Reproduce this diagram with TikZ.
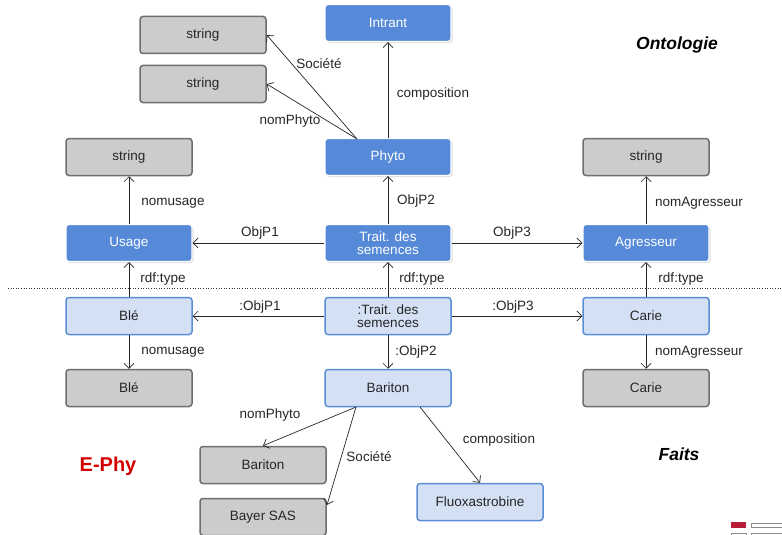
\documentclass[tikz,border=0pt]{standalone}
\usepackage{fontspec}
\setmainfont{Liberation Sans}
\usetikzlibrary{arrows.meta,shadows}
\definecolor{classblue}{HTML}{568AD8}
\definecolor{instfill}{HTML}{D4E1F5}
\definecolor{instedge}{HTML}{5B8DD6}
\definecolor{litfill}{HTML}{CCCCCC}
\definecolor{litedge}{HTML}{6E6E6E}
\definecolor{logored}{HTML}{B81E3A}
\definecolor{ephyred}{HTML}{D40000}
\begin{document}
\begin{tikzpicture}[x=1pt,y=-1pt,
  every node/.style={font=\fontsize{13.5}{15}\selectfont},
  box/.style={rounded corners=3pt,minimum width=126pt,minimum height=37pt,
    align=center,inner sep=1pt},
  cls/.style={box,fill=classblue,draw=white,line width=1.2pt,text=white,
    drop shadow={shadow xshift=1.5pt,shadow yshift=-1.5pt,opacity=0.25}},
  inst/.style={box,fill=instfill,draw=instedge,line width=1.5pt,text=black!85},
  lit/.style={box,fill=litfill,draw=litedge,line width=1.5pt,text=black!85},
  rel/.style={draw=black!85,line width=0.7pt,-{Straight Barb[length=5pt,width=10pt]}},
  lbl/.style={text=black!85,inner sep=1pt,font=\fontsize{13.5}{15}\selectfont},
  title/.style={font=\fontsize{17.5}{20}\selectfont\bfseries\itshape}]
\useasboundingbox (0,0) rectangle (782,535);

% ontology level
\node[cls] (intrant) at (388,23) {Intrant};
\node[lit] (s1) at (203,35) {string};
\node[lit] (s2) at (203,84) {string};
\node[cls] (phyto) at (388,157) {Phyto};
\node[lit] (s3) at (129,157) {string};
\node[lit] (s4) at (646,157) {string};
\node[cls] (usage) at (129,243) {Usage};
\node[cls] (trait) at (388,243) {Trait. des\\[-1.5pt]semences};
\node[cls] (agr) at (646,243) {Agresseur};

% facts level
\node[inst] (ble) at (129,316) {Blé};
\node[inst] (itrait) at (388,316) {:Trait. des\\[-1.5pt]semences};
\node[inst] (carie) at (646,316) {Carie};
\node[lit] (ble2) at (129,388) {Blé};
\node[inst] (bariton) at (388,388) {Bariton};
\node[lit] (carie2) at (646,388) {Carie};
\node[lit] (bariton2) at (263,465) {Bariton};
\node[lit] (bayer) at (263,517) {Bayer SAS};
\node[inst] (fluo) at (480,502) {Fluoxastrobine};

% separator
\draw[black!80,line width=0.6pt,dotted] (8,288) -- (782,288);

% ontology relations
\coordinate (pt) at (357,139);
\draw[rel] (pt) -- (s1.east);
\draw[rel] (pt) -- (s2.east);
\draw[rel] (phyto) -- (intrant);
\draw[rel] (trait) -- (phyto);
\draw[rel] (usage) -- (s3);
\draw[rel] (agr) -- (s4);
\draw[rel] (trait) -- (usage);
\draw[rel] (trait) -- (agr);

% type links
\draw[rel] (ble) -- (usage);
\draw[rel] (itrait) -- (trait);
\draw[rel] (carie) -- (agr);

% fact relations
\draw[rel] (itrait) -- (ble);
\draw[rel] (itrait) -- (carie);
\draw[rel] (itrait) -- (bariton);
\draw[rel] (ble) -- (ble2);
\draw[rel] (carie) -- (carie2);
\coordinate (bt) at (356,407);
\draw[rel] (bt) -- (bariton2.north);
\draw[rel] (bt) -- (327,505);
\draw[rel] (420,407) -- (fluo.north);

% labels
\node[lbl] (l1) at (319,64) {Société};
\node[lbl] (l2) at (290,121) {nomPhyto};
\node[lbl] (l3) at (433,94) {composition};
\node[lbl] (l4) at (173,203) {nomusage};
\node[lbl] (l5) at (416,201) {ObjP2};
\node[lbl] (l6) at (699,203) {nomAgresseur};
\node[lbl] (l7) at (260,233) {ObjP1};
\node[lbl] (l8) at (512,233) {ObjP3};
\node[lbl] (l9) at (163,279) {rdf:type};
\node[lbl] (l10) at (422,279) {rdf:type};
\node[lbl] (l11) at (681,279) {rdf:type};
\node[lbl] (l12) at (260,307) {:ObjP1};
\node[lbl] (l13) at (513,307) {:ObjP3};
\node[lbl] (l14) at (173,352) {nomusage};
\node[lbl] (l15) at (416,352) {:ObjP2};
\node[lbl] (l16) at (699,352) {nomAgresseur};
\node[lbl] (l17) at (270,415) {nomPhyto};
\node[lbl] (l18) at (369,457) {Société};
\node[lbl] (l19) at (499,440) {composition};

% section titles
\node[title] (onto) at (677,45) {Ontologie};
\node[title] (faits) at (679,454) {Faits};
\node[font=\fontsize{20}{22}\selectfont\bfseries,text=ephyred] (ephy) at (108,466) {E-Phy};

% corner mark
\fill[logored] (731,522) rectangle (746,528);
\draw[black!45,line width=0.8pt] (751,523) rectangle (782,527);
\draw[black!45,line width=0.8pt] (731,533) rectangle (746,536);
\draw[black!45,line width=0.8pt] (751,533) rectangle (782,536);
\end{tikzpicture}
\end{document}
